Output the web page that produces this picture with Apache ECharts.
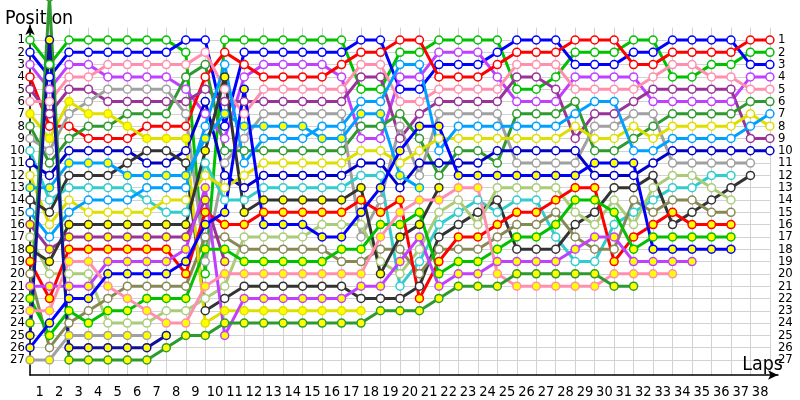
<!DOCTYPE html>
<html><head><meta charset="utf-8">
<script src="https://cdn.jsdelivr.net/npm/echarts@6/dist/echarts.min.js"></script>
<style>html,body{margin:0;padding:0;background:#fff}#c{width:800px;height:400px}</style>
</head><body><div id="c"></div>
<script>
const lapLabels = ['1','2','3','4','5','6','7','8','9','10','11','12','13','14','15','16','17','18','19','20','21','22','23','24','25','26','27','28','29','30','31','32','33','34','35','36','37','38'];

// Position per lap column (column 0 = starting grid). Class A = hollow markers, class B = yellow markers.
const greenA  = [1,3,1,1,1,1,1,1,2, 20,1,1,1,1,1,1,1, 5,5,2,2,1,1,1,1, 5,5,4,2,2,2,1,1, 4,4,3,3,2,2];
const blueA   = [2,4,2,2,2,2,2,2,1, 1,8,2,2,2,2,2,2, 1,1,5,5,3,3,3,2, 1,1,1,3,3,3,2,2, 1,1,1,1,3,3];
const redA    = [4,8,8,9,9,9,8,8,8, 4,2,3,4,4,4,4,3, 2,2,1,1,4,4,4,3, 2,2,2,1,1,1,3,3, 2,2,2,2,1,1];
const violetA = [3,5,3,3,4,4,4,4,5, 7,9,4,3,3,3,3,4, 9,9,4,4,2,2,2,4, 6,6,6,4,4,4,4,6, 6,6,6,6,4,4];
const pinkA   = [6,6,4,4,3,3,3,3,3, 2,5,7,5,5,5,5,5, 3,3,6,6,5,5,5,5, 3,3,3,5,5,5,5,4, 3,3,4,4,5,5];
const purpleA = [5,7,5,5,6,6,6,6,6, 5,6,6,6,6,6,6,6, 4,4,9,7,6,6,6,6, 4,4,5,9,7,7,6,5, 5,5,5,5,9,9];
const dkgreenA= [8,11,9,8,8,7,7,7,4, 3,10,10,10,10,10,10,10, 8,8,7,9,12,10,10,11, 7,7,7,6,10,10,9,8, 7,7,7,7,6,6];
const grayA   = [9,10,7,6,5,5,5,5,7, 19,11,9,7,7,7,7,7, 17,14,8,12,7,7,7,7, 11,11,11,11,8,8,7,7, 11,11,11,11,11];
const cyanA   = [10,14,13,13,13,13,14,15,15, 11,14,14,13,13,13,13,13, 12,12,21,19,16,15,14,15, 14,14,17,19,19,16,15,14, 13,13,12,12];
const navyA   = [11,12,10,10,10,10,11,11,10, 6,12,13,12,12,12,12,12, 11,11,13,11,11,11,11,10, 10,10,10,10,12,12,12,11, 10,10,10,10,10,10];
const yellowA = [12,16,14,15,15,15,15,14,14, 12,13,12,11,11,11,11,11, 10,10,11,10,9,9,9,9, 9,9,9,8,9,9,8,9, 8,8,8,8,7,8];
const dkgrayA = [14,15,12,12,12,11,10,10,11, 23,22,21,21,21,21,21,21, 22,22,22,21,17,16,15,14, 18,18,18,16,15,13,13,12, 16,15,14,13,12];
const ltblueA = [15,17,15,14,14,14,13,13,13, 8,3,11,9,9,9,8,8, 6,6,3,3,10,8,8,8, 8,8,8,7,6,6,10,10, 9,9,9,9,8,7];
const ltgreenA= [17,20,20,20,24,24,24,23,23, 22,21,17,17,17,17,16,16, 16,19,20,18,15,14,16,13, 13,13,13,15,16,14,16,13, 12,12,13,14];
const oliveA  = [20,26,24,23,22,21,21,21,21, 17,17,18,18,18,18,18,19, 19,18,18,20,18,18,18,17, 16,16,15,17,18,18,14,15, 14,14,15,15];

const yellowB = [7,9,6,7,7,8,9,9,9, 24,23,23,23,23,23,23,23, 23];
const ltblueB = [13,13,11,11,11,12,12,12,12, 9,7,8,8,8,8,9,9, 7,7,12,13];
const purpleB = [16,18,17,17,17,17,17,17,17, 14,19];
const dkgrayB = [18,19,16,16,16,16,16,16,16, 10,4,15,14,14,14,14,14, 13,20,17,16,13];
const redB    = [19,22,18,18,18,18,18,18,20, 15,16,16,15,15,15,15,15, 14,15,14,22,19,17,17,16, 15,15,14,13,13,19,17,16, 15,16,16,16];
const violetB = [21,21,21,21,19,19,19,19,18, 13,25,22,22,22,22,22,22, 21,21,19,17,21,20,20,19, 19,19,19,18,17,17,19,19, 19,19];
const greenB  = [22,25,23,24,23,23,22,22,22, 18,18,19,19,19,19,19,18, 18,16,16,15,20,19,19,18, 17,17,16,14,14,15,18,17, 17,17,17,17];
const pinkB   = [23,23,19,19,21,22,23,24,24, 21,20,20,20,20,20,20,20, 20,17,15,14,14,13,13,20, 21,21,21,21,21,20,20,20, 20];
const dkgreenB= [24,-2.5,27,27,27,27,27,26,25, 25,24,24,24,24,24,24,24, 24,23,23,23,22,21,21,21, 20,20,20,20,20,21,21];
const navyB   = [25,1,26,26,26,26,26,25];
const blueB   = [26,24,22,22,20,20,20,20,19, 16,15,5,16,16,16,17,17, 15,13,10,8,8,12,12,12, 12,12,12,12,11,11,11,18, 18,18,18,18];
const grayB   = [27,27,25,25,25,25,25];

const cars = [
  ['A1', greenA, '#00c000', 'A'], ['A2', blueA, '#0000ff', 'A'], ['A3', violetA, '#c040ff', 'A'],
  ['A4', redA, '#ff0000', 'A'], ['A5', purpleA, '#993399', 'A'], ['A6', pinkA, '#ff8faf', 'A'],
  ['A7', dkgreenA, '#2e9a2e', 'A'], ['A8', grayA, '#a0a0a0', 'A'], ['A9', cyanA, '#33cccc', 'A'],
  ['A10', navyA, '#0000c8', 'A'], ['A11', yellowA, '#dede00', 'A'], ['A12', dkgrayA, '#333333', 'A'],
  ['A13', ltblueA, '#00a0ff', 'A'], ['A14', ltgreenA, '#aacc78', 'A'], ['A15', oliveA, '#888855', 'A'],
  ['B1', yellowB, '#dede00', 'B'], ['B2', ltblueB, '#00a0ff', 'B'], ['B3', purpleB, '#993399', 'B'],
  ['B4', dkgrayB, '#333333', 'B'], ['B5', redB, '#ff0000', 'B'], ['B6', violetB, '#c040ff', 'B'],
  ['B7', greenB, '#00c000', 'B'], ['B8', pinkB, '#ff8faf', 'B'], ['B9', dkgreenB, '#2e9a2e', 'B'],
  ['B10', navyB, '#10109a', 'B'], ['B11', blueB, '#0000ff', 'B'], ['B12', grayB, '#a0a0a0', 'B']
];

const FONT = "'DejaVu Sans Condensed', 'DejaVu Sans', sans-serif";
const ySplitColors = ['rgba(0,0,0,0)'];
for (let i = 1; i <= 27; i++) ySplitColors.push('#d2d2d2');
ySplitColors.push('rgba(0,0,0,0)', 'rgba(0,0,0,0)');
const posLabel = v => (v >= 1 && v <= 27 && Math.abs(v - Math.round(v)) < 1e-6) ? String(Math.round(v)) : '';

const chart = echarts.init(document.getElementById('c'), null, {renderer: 'canvas'});
chart.setOption({
  animation: false,
  backgroundColor: '#fff',
  grid: [
    {left: 30, right: 30.1, top: 27.69, bottom: 24.62},
    {left: 30, right: 22, top: 25, bottom: 25}
  ],
  xAxis: [
    {gridIndex: 0, type: 'value', min: 0, max: 38, interval: 1,
     axisLine: {show: false}, axisTick: {show: false}, axisLabel: {show: false},
     splitLine: {show: true, lineStyle: {color: '#d2d2d2', width: 1}}},
    {gridIndex: 0, type: 'category', data: lapLabels, boundaryGap: true, position: 'bottom',
     axisLine: {show: false}, axisTick: {show: false}, splitLine: {show: false},
     axisLabel: {interval: 0, margin: 9, fontSize: 14.5, color: '#000', fontFamily: FONT}},
    {gridIndex: 1, type: 'value', min: 0, max: 1, name: 'Laps', nameLocation: 'end', nameGap: 5,
     nameTextStyle: {fontSize: 19.5, color: '#000', fontFamily: FONT, align: 'right', verticalAlign: 'bottom'},
     axisLine: {show: true, onZero: false, symbol: ['none', 'arrow'], symbolSize: [7, 10], lineStyle: {color: '#000', width: 1.5}},
     axisTick: {show: false}, axisLabel: {show: false}, splitLine: {show: false}}
  ],
  yAxis: [
    {gridIndex: 0, type: 'value', inverse: true, min: 0, max: 28.25, interval: 1,
     axisLine: {show: false}, axisTick: {show: false},
     axisLabel: {formatter: posLabel, margin: 5, fontSize: 13, color: '#000', fontFamily: FONT},
     splitLine: {show: true, lineStyle: {color: ySplitColors, width: 1}}},
    {gridIndex: 0, type: 'value', inverse: true, min: 0, max: 28.25, interval: 1, position: 'right',
     axisLine: {show: false}, axisTick: {show: false}, splitLine: {show: false},
     axisLabel: {formatter: posLabel, margin: 8, fontSize: 13, color: '#000', fontFamily: FONT}},
    {gridIndex: 1, type: 'value', min: 0, max: 1, name: 'Position', nameLocation: 'end', nameGap: -4,
     nameTextStyle: {fontSize: 19.5, color: '#000', fontFamily: FONT, align: 'left', verticalAlign: 'bottom', padding: [0, 0, 0, -25]},
     axisLine: {show: true, onZero: false, symbol: ['none', 'arrow'], symbolSize: [7, 10], lineStyle: {color: '#000', width: 1.5}},
     axisTick: {show: false}, axisLabel: {show: false}, splitLine: {show: false}}
  ],
  series: cars.map(([name, vals, color, cls]) => ({
    type: 'line', name, xAxisIndex: 0, yAxisIndex: 0,
    data: vals.map((v, i) => [i, v]),
    symbol: 'circle', symbolSize: 8, showSymbol: true, showAllSymbol: true,
    lineStyle: {color, width: 3},
    itemStyle: {color: cls === 'A' ? '#ffffff' : '#ffff00', borderColor: color, borderWidth: 1.5},
    emphasis: {disabled: true}, silent: true, clip: name !== 'B9'
  }))
});
</script></body></html>
